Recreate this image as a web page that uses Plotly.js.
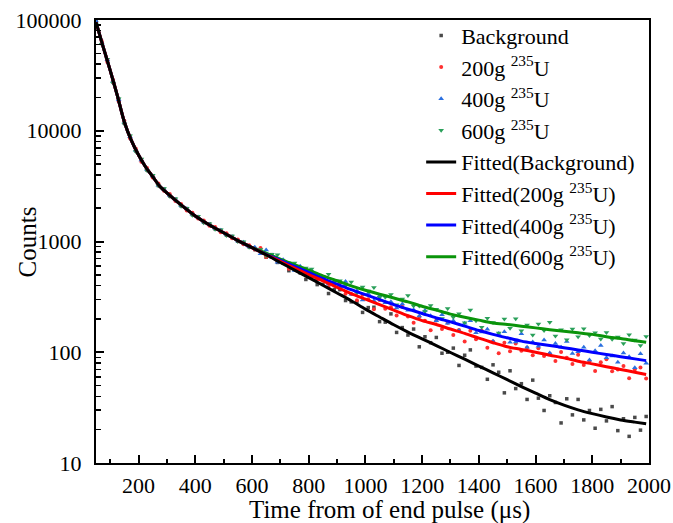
<!DOCTYPE html>
<html>
<head>
<meta charset="utf-8">
<script src="https://cdn.plot.ly/plotly-3.0.1.min.js"></script>
<style>html,body{margin:0;padding:0;background:#fff;}#chart{width:673px;height:523px;}</style>
</head>
<body>
<div id="chart"></div>
<script>
// Measured time (µs) of the scattered points
var timeX = [50,70,90,110,130,150,170,190,210,230,250,270,290,310,330,350,370,390,410,430,450,470,490,510,530,550,570,590,
610,630,650,670,690,710,730,750,770,790,810,830,850,870,890,910,930,950,970,990,1010,1030,1050,1070,1090,1110,1130,1150,1170,1190,
1210,1230,1250,1270,1290,1310,1330,1350,1370,1390,1410,1430,1450,1470,1490,1510,1530,1550,1570,1590,1610,1630,1650,1670,1690,1710,
1730,1750,1770,1790,1810,1830,1850,1870,1890,1910,1930,1950,1970,1990];

var bgEarly = [97000,62000,43500,27600,19300,11700,8900,6600,5480,4420,3920,3200,2970,2580,2410,2100,1980,1750,1670,1490,1440,1300,1260,1140,1110,1005,975,895];
var bgTail = [846,841,721,761,647,638,545,594,520,454,498,408,410,339,368,367,293,285,286,229,253,255,189,187,222,151,167,143,162,112,138,122,136,98,100,109,76,94,105,75,73,57,77,66,43,68,47,52,37.5,56,38.5,29.8,40.5,35.2,23,38,27.2,37.5,24.5,29.8,20.6,30.5,24,32.3,19.6,25.1,17.4,25.8,19.8,26.3];

var u200Early = [93000,64500,41800,28900,18400,12300,8550,6900,5250,4600,3780,3340,2870,2690,2320,2180,1910,1820,1610,1550,1385,1350,1215,1190,1070,1045,945,925];
var u200Tail = [847,872,723,727,663,674,568,592,545,549,468,457,458,388,402,428,338,336,295,331,301,245,296,247,255,215,258,210,185,209,192,158,194,162,185,143,159,125,156,131,156,110,125,98,122,102,120,103,110,94,108.6,92.5,97,83.3,100.3,89.1,78.3,94.8,76.7,82.7,67.8,81.2,86.5,67.3,69.8,75,58.1,69.8,72.7,57.8];

var u400Early = [98000,61500,43800,27800,19100,11800,8850,6650,5450,4450,3900,3220,2960,2600,2400,2110,1975,1760,1665,1500,1430,1310,1265,1150,1105,1010,985,900];
var u400Tail = [886,776,836,720,651,683,631,546,597,522,549,466,470,413,440,391,435,334,359,297,340,292,323,280,286,251,273,240,242,212,238,214,192,218,183,192,157,183,192,150,152,161,126,148,153,123,124,147,111,124,113,129,98.6,120,111,125,97.3,101,111,85.2,103,115,89.3,92.6,81.2,98.6,91,72.4,96.8,79.7];

var u600Early = [91000,60500,44200,27000,19500,11500,9000,6500,5550,4380,3960,3180,3010,2560,2430,2080,1995,1730,1690,1480,1450,1290,1275,1135,1120,1000,995,888];
var u600Tail = [856,845,743,768,761,656,642,639,554,575,566,495,481,507,429,442,398,430,342,389,357,384,312,314,333,268,303,325,261,262,233,265,245,202,248,207,223,185,241,192,168,203,186,149,200,165,201,156,176,143,180,157,187,140,160,130,162,138,163,142,150,132,151,131,137,120,144,129,115,139];

// Fitted curves
var fitX = [50,75,100,125,150,175,200,225,250,275,300,350,400,450,500,550,600,650,700,750,800,850,900,950,1000,1050,1100,1150,1200,1250,1300,1350,1400,1450,1500,1550,1600,1650,1700,1750,1800,1850,1900,1950,1990];
var fitCommon = [95500,57500,35100,20900,12000,8130,6030,4710,3850,3150,2750,2140,1700,1410,1200,1020,881];
var fitBgTail = [759,646,552,472,403,343,292,245,208,177,152,132,115,99.5,86.5,75,65.2,56.5,49,42.7,37.3,33.3,30.2,27.9,26,24.5,23.4,22.6];
var fit200Tail = [759,661,575,501,442,385,339,302,269,240,214,193,178,162,148,134,122,112,106,100,94,89,83,78.5,74,70,66,63];
var fit400Tail = [767,676,596,525,462,412,367,331,299,269,245,224,204,188,172,157,145,135,126,120,115,110,105,100,95.5,91.2,87.1,84];
var fit600Tail = [785,692,617,550,490,442,398,363,335,309,285,260,240,221,207,195,184,178,172,166,160,155,150,145,138,133,127,123];

var names = ['Background','200g <sup>235</sup>U','400g <sup>235</sup>U','600g <sup>235</sup>U',
  'Fitted(Background)','Fitted(200g <sup>235</sup>U)','Fitted(400g <sup>235</sup>U)','Fitted(600g <sup>235</sup>U)'];
var yTickVals = [10,100,1000,10000,100000];
var yTickText = ['10','100','1000','10000','100000'];

var FONT = '"Liberation Serif", "Times New Roman", serif';

function pts(y, name, rank, color, symbol, size) {
  return {x: timeX, y: y, name: name, legendrank: rank, type: 'scatter', mode: 'markers',
    marker: {color: color, symbol: symbol, size: size, line: {width: 0}}};
}
function fit(y, name, rank, color) {
  return {x: fitX, y: y, name: name, legendrank: rank, type: 'scatter', mode: 'lines',
    line: {color: color, width: 3, shape: 'spline', smoothing: 0.8}};
}

var data = [
  pts(bgEarly.concat(bgTail), names[0], 1, '#4a4a4a', 'square', 3.5),
  pts(u200Early.concat(u200Tail), names[1], 2, '#ff3030', 'circle', 4),
  pts(u400Early.concat(u400Tail), names[2], 3, '#2a6fe0', 'triangle-up', 5),
  pts(u600Early.concat(u600Tail), names[3], 4, '#2aa05a', 'triangle-down', 5),
  fit(fitCommon.concat(fit600Tail), names[7], 8, '#0a940a'),
  fit(fitCommon.concat(fit400Tail), names[6], 7, '#0000ff'),
  fit(fitCommon.concat(fit200Tail), names[5], 6, '#ff0000'),
  fit(fitCommon.concat(fitBgTail), names[4], 5, '#000000')
];

var layout = {
  width: 673, height: 523,
  margin: {l: 96, r: 24, t: 20, b: 60},
  paper_bgcolor: '#fff', plot_bgcolor: '#fff',
  font: {family: FONT, size: 22, color: '#000'},
  showlegend: true,
  legend: {x: 0.588, y: 1.012, xanchor: 'left', yanchor: 'top', bgcolor: 'rgba(0,0,0,0)',
    font: {family: FONT, size: 22, color: '#000'}, tracegroupgap: 0},
  xaxis: {
    range: [50, 2000], tick0: 0, dtick: 200, showgrid: false, zeroline: false,
    showline: true, linecolor: '#000', linewidth: 2, mirror: true,
    ticks: 'inside', ticklen: 8, tickwidth: 2, tickcolor: '#000',
    minor: {dtick: 100, ticks: 'inside', ticklen: 4, tickwidth: 2, tickcolor: '#000', showgrid: false},
    tickfont: {family: FONT, size: 22}, ticklabelstandoff: 2
  },
  yaxis: {
    type: 'log', range: [1, 5], tickmode: 'array', tickvals: yTickVals, ticktext: yTickText,
    showgrid: false, zeroline: false, showline: true, linecolor: '#000', linewidth: 2, mirror: true,
    ticks: 'inside', ticklen: 8, tickwidth: 2, tickcolor: '#000',
    minor: {dtick: 'D1', ticks: 'inside', ticklen: 5, tickwidth: 1.5, tickcolor: '#000', showgrid: false},
    tickfont: {family: FONT, size: 22}, ticklabelstandoff: 8
  },
  annotations: [
    {text: 'Counts', xref: 'paper', yref: 'paper', x: -0.123, y: 0.5, textangle: -90,
      showarrow: false, xanchor: 'center', yanchor: 'middle', font: {family: FONT, size: 25}},
    {text: 'Time from of end pulse (μs)', xref: 'paper', yref: 'paper', x: 0.53, y: -0.106,
      showarrow: false, xanchor: 'center', yanchor: 'middle', font: {family: FONT, size: 25}}
  ]
};

Plotly.newPlot('chart', data, layout, {displayModeBar: false, staticPlot: true});
</script>
</body>
</html>
